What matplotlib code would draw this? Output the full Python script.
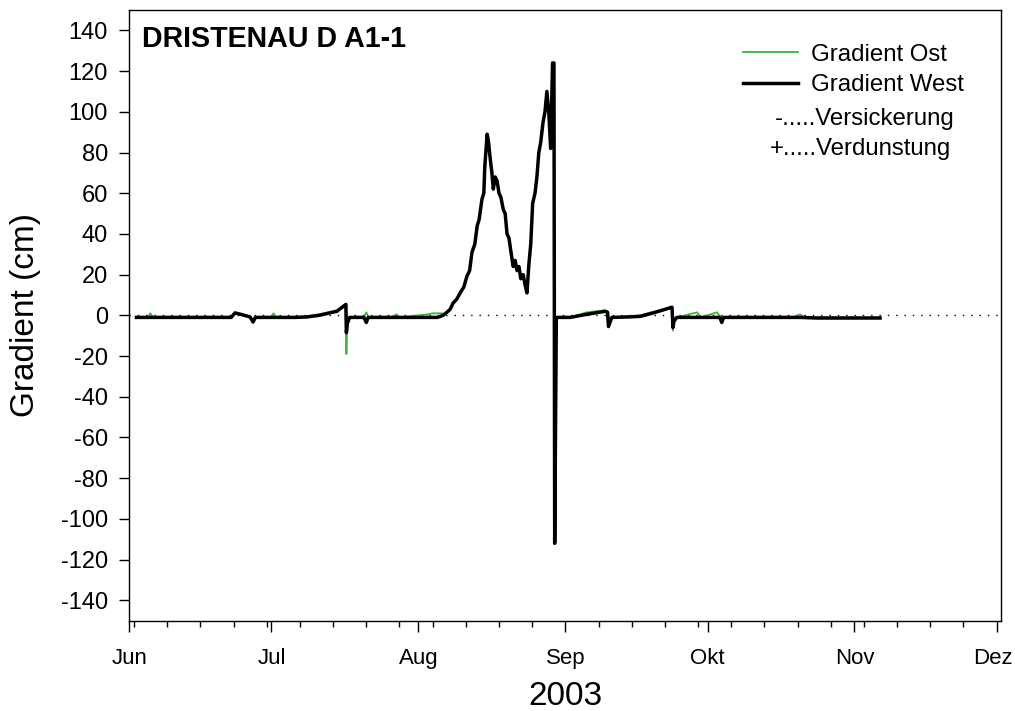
import matplotlib
matplotlib.use("Agg")
import matplotlib.pyplot as plt
import matplotlib.dates as mdates
import matplotlib.transforms as mtransforms
import pandas as pd

plt.rcParams['font.family'] = ['Liberation Sans', 'DejaVu Sans']
plt.rcParams['axes.unicode_minus'] = False

# ---------------- data (day offsets from 2003-06-01, gradient in cm) -------------
west_days = [1.5, 5, 10, 15, 21.5, 22.3, 23.5, 25.5, 26.1, 26.6, 30, 35, 37.4, 40, 43.8,
             45.7, 45.8, 46.0, 46.5, 49.5, 50.0, 50.4, 55, 60, 65,
             66.2, 67.0, 67.7, 68.3, 69.1, 69.8, 70.6, 71.2, 71.8, 72.3, 72.9, 73.4, 73.8,
             74.4, 74.8, 75.0, 75.5, 75.8, 76.1, 76.5, 76.8, 77.2, 77.6, 78.0, 78.4, 78.9,
             79.3, 79.7, 80.1, 80.6, 81.0, 81.4, 81.8, 82.2, 82.6, 83.1, 83.5, 83.9, 84.3,
             84.7, 85.1, 85.6, 86.0, 86.4, 86.8, 87.3, 87.7, 88.1, 88.5, 88.9, 89.3, 89.6,
             89.75, 90.1, 93, 96.5, 100.4, 100.9, 101.1, 101.8, 105, 107.8, 111, 114.5,
             114.7, 114.9, 115.5, 120, 124.6, 125.0, 125.4, 130, 140, 141.5, 145, 150, 158.4]
west_vals = [-1, -1, -1, -1, -1, 1.2, 0.5, -0.8, -3.3, -1, -1, -1, -0.8, 0, 2,
             5.4, -8.5, -4, -1, -1, -3.5, -1, -1, -1, -1,
             0, 1.5, 3, 6, 8, 11, 14, 19, 22, 31, 35, 44, 47,
             57, 60, 73, 89, 85, 78, 70, 62, 68, 66, 60, 58, 52,
             50, 40, 38, 30, 24, 27, 22, 24, 18, 20, 15, 11, 25,
             35, 55, 60, 68, 80, 85, 95, 100, 110, 100, 82, 124, 124,
             -112, -1, -1, 0.5, 2, 1.5, -5.5, -1, -0.8, -0.5, 1.5, 4,
             -6, -3, -1, -1, -1, -3.5, -1, -1, -1, -1, -1.3, -1.3, -1.3]

ost_days = [1.5, 4.0, 4.4, 5.0, 15, 21.5, 22.3, 23.5, 25.5, 26.1, 26.6, 30, 30.4, 31,
            37.4, 40, 43.8, 45.6, 45.8, 46.0, 46.5, 49.5, 50.0, 50.5, 55, 56.4, 57,
            63, 64, 66,
            66.2, 67.0, 67.7, 68.3, 69.1, 69.8, 70.6, 71.2, 71.8, 72.3, 72.9, 73.4, 73.8,
            74.4, 74.8, 75.0, 75.5, 75.8, 76.1, 76.5, 76.8, 77.2, 77.6, 78.0, 78.4, 78.9,
            79.3, 79.7, 80.1, 80.6, 81.0, 81.4, 81.8, 82.2, 82.6, 83.1, 83.5, 83.9, 84.3,
            84.7, 85.1, 85.6, 86.0, 86.4, 86.8, 87.3, 87.7, 88.1, 88.5, 88.9, 89.3, 89.6,
            89.75, 90.1, 93, 96.5, 100.4, 100.9, 101.1, 101.8, 105, 107.8, 111, 114.5,
            114.7, 114.9, 115.5, 119.8, 120.6, 124.0, 124.8, 130, 140, 141.5, 142.5,
            150, 158.4]
ost_vals = [-1, -0.8, 1, -0.8, -1, -1, 1.5, 0.8, -0.5, -2.5, -1, -1, 1, -1,
            -0.5, 0.5, 2.5, 4.5, -19, -4, -1, -1, 1.5, -1, -1, 0.5, -1,
            0.5, 1, 1,
            0, 1.5, 3, 6, 8, 11, 14, 19, 22, 31, 35, 44, 47,
            57, 60, 73, 89, 85, 78, 70, 62, 68, 66, 60, 58, 52,
            50, 40, 38, 30, 24, 27, 22, 24, 18, 20, 15, 11, 25,
            35, 55, 60, 68, 80, 85, 95, 100, 110, 100, 82, 124, 124,
            -112, -1, -1, 1.5, 2.5, 2, -5, -1, -0.5, 0, 2, 4,
            -7.5, -3, -1, 1.5, -1, 1.5, -1, -1, -1, 0.5, -1,
            -1, -1]

month_labels = ["Jun", "Jul", "Aug", "Sep", "Okt", "Nov", "Dez"]
y_ticks = list(range(-140, 141, 20))
start = pd.Timestamp("2003-06-01")

west_t = start + pd.to_timedelta(west_days, unit="D")
ost_t = start + pd.to_timedelta(ost_days, unit="D")

# ---------------- figure -------------
fig = plt.figure(figsize=(10.15, 7.11), dpi=100)
ax = fig.add_axes([0.1274, 0.127, 0.9862 - 0.1274, 0.9859 - 0.127])

ax.axhline(0, color="black", lw=1.0, ls=(0, (1, 5)), zorder=1)
l_ost, = ax.plot(ost_t, ost_vals, color="#3cb43c", lw=1.3, zorder=2, label="Gradient Ost")
l_west, = ax.plot(west_t, west_vals, color="black", lw=2.5, zorder=3, label="Gradient West")

ax.set_ylim(-150, 150)
ax.set_yticks(y_ticks)
ax.set_xlim(pd.Timestamp("2003-06-01"), pd.Timestamp("2003-12-01 22:00"))

ax.xaxis.set_major_locator(mdates.MonthLocator())
ax.xaxis.set_minor_locator(mdates.WeekdayLocator(byweekday=mdates.MO))
ax.set_xticklabels(month_labels)

ax.tick_params(axis="y", which="major", direction="out", length=7, width=1,
               labelsize=17, pad=8.5)
ax.tick_params(axis="x", which="major", direction="out", length=8, width=1,
               labelsize=16, pad=12)
ax.tick_params(axis="x", which="minor", direction="out", length=4.5, width=1)
for s in ax.spines.values():
    s.set_linewidth(1)

# keep the last month label inside the canvas
last = ax.get_xticklabels()[-1]
last.set_transform(last.get_transform() +
                   mtransforms.ScaledTranslation(-3 / 72, 0, fig.dpi_scale_trans))

ax.set_ylabel("Gradient (cm)", fontsize=24, labelpad=14)
ax.set_xlabel("2003", fontsize=24, labelpad=8)

ax.text(0.0142, 0.94, "DRISTENAU D A1-1", transform=ax.transAxes, fontsize=20.6,
        fontweight="bold", ha="left", va="baseline")

ax.legend(handles=[l_ost, l_west], loc="upper left", bbox_to_anchor=(0.704, 0.945),
          frameon=False, fontsize=17.3, handlelength=2.3, handletextpad=0.55,
          borderpad=0, borderaxespad=0, labelspacing=0.36)
ax.text(0.741, 0.8215, "-.....Versickerung", transform=ax.transAxes, fontsize=17.3,
        ha="left", va="center")
ax.text(0.735, 0.7725, "+.....Verdunstung", transform=ax.transAxes, fontsize=17.3,
        ha="left", va="center")

fig.savefig("out.png", dpi=100)
